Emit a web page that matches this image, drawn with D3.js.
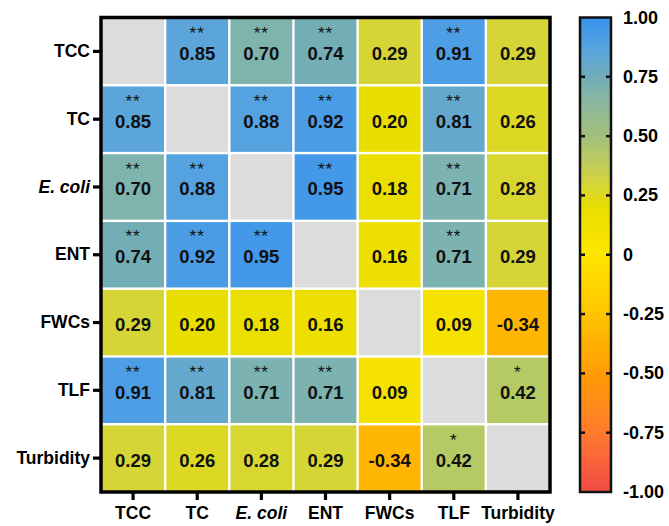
<!DOCTYPE html>
<html>
<head>
<meta charset="utf-8">
<script src="https://cdn.jsdelivr.net/npm/d3@7"></script>
<style>
  html, body { margin: 0; padding: 0; background: #fff; }
  svg { display: block; font-family: "Liberation Sans", Arial, sans-serif; }
</style>
</head>
<body>
<svg id="chart" width="669" height="526"></svg>
<script>
// Variables in the correlation matrix
const variables = ["TCC", "TC", "E. coli", "ENT", "FWCs", "TLF", "Turbidity"];
const italicVars = ["E. coli"];

// Pearson correlation coefficients (null on the diagonal)
const rTCC       = [null, 0.85, 0.70, 0.74, 0.29, 0.91, 0.29];
const rTC        = [0.85, null, 0.88, 0.92, 0.20, 0.81, 0.26];
const rEcoli     = [0.70, 0.88, null, 0.95, 0.18, 0.71, 0.28];
const rENT       = [0.74, 0.92, 0.95, null, 0.16, 0.71, 0.29];
const rFWCs      = [0.29, 0.20, 0.18, 0.16, null, 0.09, -0.34];
const rTLF       = [0.91, 0.81, 0.71, 0.71, 0.09, null, 0.42];
const rTurbidity = [0.29, 0.26, 0.28, 0.29, -0.34, 0.42, null];

// Significance markers
const sTCC       = ["", "**", "**", "**", "", "**", ""];
const sTC        = ["**", "", "**", "**", "", "**", ""];
const sEcoli     = ["**", "**", "", "**", "", "**", ""];
const sENT       = ["**", "**", "**", "", "", "**", ""];
const sFWCs      = ["", "", "", "", "", "", ""];
const sTLF       = ["**", "**", "**", "**", "", "", "*"];
const sTurbidity = ["", "", "", "", "", "*", ""];

const legendTicks = [1, 0.75, 0.5, 0.25, 0, -0.25, -0.5, -0.75, -1];

const rows = [rTCC, rTC, rEcoli, rENT, rFWCs, rTLF, rTurbidity];
const sigs = [sTCC, sTC, sEcoli, sENT, sFWCs, sTLF, sTurbidity];

const cells = [];
rows.forEach((row, i) => row.forEach((v, j) => {
  cells.push({ row: variables[i], col: variables[j], value: v, sig: sigs[i][j] });
}));

// Diverging palette: red - orange - yellow - green - blue
const color = d3.scaleLinear()
  .domain([-1, -0.75, -0.5, -0.25, 0, 0.2, 0.3, 0.42, 0.5, 0.7, 0.75, 0.85, 0.92, 1])
  .range(["#f24a45", "#ff7a2e", "#ff9c05", "#ffc400", "#ffe600", "#e8de00", "#d4d43c",
          "#b5c965", "#a2c07a", "#7fb3ae", "#70acb8", "#5ca5db", "#4a9de5", "#3890ec"])
  .interpolate(d3.interpolateRgb);

// Plain hyphen for negative numbers
const locale = d3.formatLocale({ decimal: ".", thousands: ",", grouping: [3], currency: ["", ""], minus: "-" });
const fmt = locale.format(".2f");

const svg = d3.select("#chart");
const plot = { left: 101, right: 550, top: 17.5, bottom: 492 };

const x = d3.scaleBand().domain(variables).range([plot.left, plot.right]);
const y = d3.scaleBand().domain(variables).range([plot.top, plot.bottom]);

const gap = 1.2;
const cellG = svg.append("g");
cellG.selectAll("rect").data(cells).join("rect")
  .attr("x", d => x(d.col) + gap)
  .attr("y", d => y(d.row) + gap)
  .attr("width", x.bandwidth() - 2 * gap)
  .attr("height", y.bandwidth() - 2 * gap)
  .attr("fill", d => d.value === null ? "#dcdcdc" : color(d.value));

const labels = cellG.selectAll("g.lbl").data(cells.filter(d => d.value !== null)).join("g")
  .attr("class", "lbl");
labels.append("text")
  .attr("x", d => x(d.col) + x.bandwidth() / 2)
  .attr("y", d => y(d.row) + y.bandwidth() / 2 + 2)
  .attr("text-anchor", "middle")
  .attr("dominant-baseline", "central")
  .attr("font-size", 18.5)
  .attr("font-weight", "bold")
  .attr("fill", "#111")
  .text(d => fmt(d.value));
labels.filter(d => d.sig).append("text")
  .attr("x", d => x(d.col) + x.bandwidth() / 2)
  .attr("y", d => y(d.row) + 21.5)
  .attr("text-anchor", "middle")
  .attr("font-size", 17)
  .attr("letter-spacing", 1)
  .attr("fill", "#111")
  .text(d => d.sig);

// Frame
svg.append("rect")
  .attr("x", plot.left).attr("y", plot.top)
  .attr("width", plot.right - plot.left).attr("height", plot.bottom - plot.top)
  .attr("fill", "none").attr("stroke", "#000").attr("stroke-width", 3.5);

// Axes
const xAxis = svg.append("g")
  .attr("transform", `translate(0,${plot.bottom})`)
  .call(d3.axisBottom(x).tickSize(8).tickPadding(7));
const yAxis = svg.append("g")
  .attr("transform", `translate(${plot.left},0)`)
  .call(d3.axisLeft(y).tickSize(8).tickPadding(3));
[xAxis, yAxis].forEach(ax => {
  ax.select(".domain").remove();
  ax.selectAll(".tick line").attr("stroke", "#000").attr("stroke-width", 3.2);
  ax.selectAll(".tick text")
    .attr("font-family", "'Liberation Sans', Arial, sans-serif")
    .attr("font-size", 17.5)
    .attr("font-weight", "bold")
    .attr("fill", "#000")
    .attr("font-style", d => italicVars.includes(d) ? "italic" : "normal");
});

// Colour bar legend
const bar = { x: 580, w: 31, top: 17.5, bottom: 492 };
const ly = d3.scaleLinear().domain([1, -1]).range([bar.top, bar.bottom]);

const defs = svg.append("defs");
const grad = defs.append("linearGradient").attr("id", "cbar")
  .attr("x1", 0).attr("y1", 0).attr("x2", 0).attr("y2", 1);
d3.range(0, 1.0001, 0.02).forEach(t => {
  grad.append("stop").attr("offset", t).attr("stop-color", color(1 - 2 * t));
});

svg.append("rect")
  .attr("x", bar.x).attr("y", bar.top)
  .attr("width", bar.w).attr("height", bar.bottom - bar.top)
  .attr("fill", "url(#cbar)")
  .attr("stroke", "#111").attr("stroke-width", 2.5);

const inner = legendTicks.filter(v => Math.abs(v) < 1);
const lg = svg.append("g");
lg.selectAll("line.l").data(inner).join("line")
  .attr("x1", bar.x).attr("x2", bar.x + 5)
  .attr("y1", d => ly(d)).attr("y2", d => ly(d))
  .attr("stroke", "#111").attr("stroke-width", 2.5);
lg.selectAll("line.r").data(inner).join("line")
  .attr("x1", bar.x + bar.w - 5).attr("x2", bar.x + bar.w)
  .attr("y1", d => ly(d)).attr("y2", d => ly(d))
  .attr("stroke", "#111").attr("stroke-width", 2.5);
lg.selectAll("text").data(legendTicks).join("text")
  .attr("x", 623)
  .attr("y", d => ly(d))
  .attr("dominant-baseline", "central")
  .attr("font-size", 18)
  .attr("font-weight", "bold")
  .attr("fill", "#000")
  .text(d => d === 0 ? "0" : fmt(d));
</script>
</body>
</html>
